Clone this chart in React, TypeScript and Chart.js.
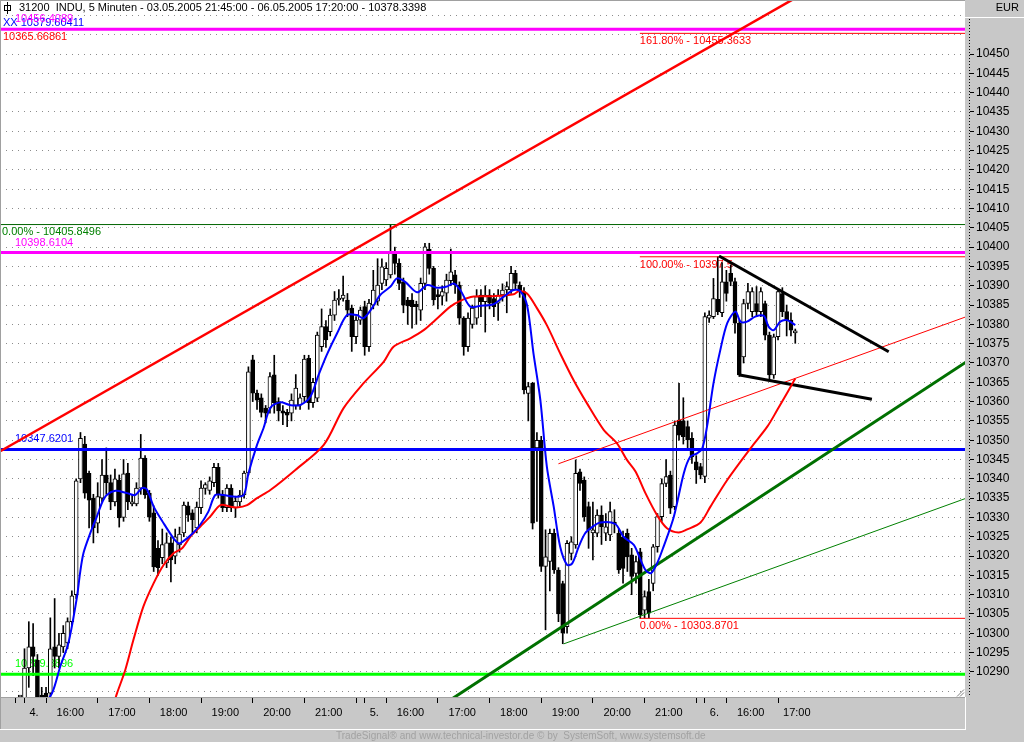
import React, { useEffect, useRef } from 'react';
import { Chart, registerables } from 'chart.js';

Chart.register(...registerables);

const W = 1024;
const H = 742;
const FONT = '"Liberation Sans", Arial, sans-serif';
Chart.defaults.font.family = FONT;

// ---------------- texts ----------------
const titleText = '31200  INDU, 5 Minuten - 03.05.2005 21:45:00 - 06.05.2005 17:20:00 - 10378.3398';
const currencyLabel = 'EUR';
const footerText = 'TradeSignal\u00ae and www.technical-investor.de \u00a9 by  SystemSoft, www.systemsoft.de';
const extraLabelTexts = ['XX 10379.60411', '10365.66861'];

// ---------------- candles (5-minute bars) ----------------
// first bar = 03.05.2005 21:45, slot index -5; 04.05 15:35 = slot 0
const FIRST_SLOT = -5;
const ohlc: [number, number, number, number][] = [
  // 03.05
  [10262, 10264, 10258, 10260], [10260, 10262, 10257, 10259], [10259, 10261, 10255, 10256],
  [10256, 10259, 10255, 10257], [10257, 10258, 10256, 10257.5],
  // 04.05
  [10262, 10296, 10256, 10291], [10291, 10303, 10286, 10296.5], [10296.5, 10302.5, 10289, 10294],
  [10293, 10294.5, 10281, 10283.5], [10284, 10286, 10281, 10283], [10284.5, 10286, 10282, 10283.5],
  [10284.5, 10304, 10283, 10296], [10296.5, 10309, 10291, 10294], [10294, 10300, 10291, 10297],
  [10296.5, 10302, 10295, 10300], [10297.5, 10304, 10296, 10303], [10303, 10311, 10302, 10309.7],
  [10310, 10340, 10309, 10339.5], [10340, 10352, 10339, 10350.5], [10349, 10351, 10335, 10336.3],
  [10341.4, 10342, 10327.3, 10334.5], [10335, 10336, 10323.4, 10327.3], [10328.5, 10339, 10326, 10335.4],
  [10335, 10345, 10334, 10341], [10341, 10348, 10336, 10339], [10339, 10341, 10332, 10334],
  [10334, 10342.5, 10333, 10340], [10339.7, 10341, 10327.5, 10329.9], [10330, 10345, 10329, 10341.3],
  [10341.5, 10344, 10332, 10334], [10333.5, 10336, 10333, 10334], [10333.5, 10339, 10333, 10337.6],
  [10337.6, 10351.5, 10336, 10345.4], [10345.4, 10346, 10335, 10335.8], [10336.3, 10337, 10329, 10330.1],
  [10331.2, 10333, 10316, 10317.2], [10322, 10324, 10315, 10317], [10319.6, 10327, 10318, 10323],
  [10318.2, 10326, 10317, 10323.4], [10323.4, 10325, 10313.3, 10319], [10320, 10327, 10318, 10325],
  [10322.9, 10327.5, 10321, 10325.7], [10326, 10334, 10325, 10333.2], [10333, 10334, 10329, 10330.6],
  [10331.2, 10332, 10326, 10329.4], [10327.3, 10334, 10326, 10332.7], [10332.5, 10339.5, 10331, 10337.6],
  [10337.5, 10339, 10336, 10338.5], [10337, 10340.5, 10336, 10339.5], [10339, 10344, 10338, 10343],
  [10343, 10344, 10335, 10335.8], [10335.8, 10337, 10331.5, 10332.5], [10332.5, 10338.5, 10331.5, 10337.6],
  [10337.6, 10338.5, 10331.5, 10332.5], [10332.5, 10335.5, 10330, 10334.2], [10334, 10337, 10333, 10335.8],
  [10335.8, 10342, 10335, 10341.5], [10341.5, 10369, 10341, 10367.7], [10370.8, 10372, 10360, 10362.2],
  [10362.2, 10363, 10358, 10360.4], [10361, 10362, 10356, 10357.2], [10358.3, 10359, 10354.5, 10357],
  [10358.3, 10367.5, 10357, 10366.5], [10366.9, 10372, 10357, 10359.7], [10360, 10361, 10355, 10357.6],
  [10357.6, 10359, 10354, 10357], [10357.2, 10358, 10353.5, 10356.5], [10357, 10362, 10355, 10360.4],
  [10359, 10367, 10358, 10363.5], [10359.1, 10362, 10358, 10361], [10361.3, 10372, 10360, 10371],
  [10371.2, 10372, 10358, 10359.7], [10359.7, 10366, 10358.5, 10365], [10360.9, 10378, 10360, 10377.2],
  [10374.2, 10384, 10373, 10379.4], [10379.4, 10381, 10374, 10376], [10378.1, 10384, 10377, 10382.4],
  [10382.4, 10388.5, 10381, 10386.3], [10386.3, 10389, 10385, 10386.8], [10386.7, 10392.5, 10386, 10387.6],
  [10386.3, 10388, 10382, 10383.7], [10384.2, 10385, 10373, 10376.8], [10376.8, 10382, 10375, 10381.1],
  [10381.1, 10384.5, 10380, 10383.7],
  // 05.05
  [10384.6, 10386, 10372, 10374.2], [10374.2, 10386.5, 10373, 10385.5], [10385, 10394, 10384, 10388.9],
  [10386, 10397, 10385, 10390.2], [10390.6, 10397, 10389, 10394.9], [10391.5, 10396, 10390, 10394.5],
  [10392.8, 10405.8, 10392, 10398.4], [10398.4, 10400, 10393, 10395.8], [10395.8, 10397, 10389, 10390.6],
  [10391, 10392, 10383, 10385], [10386.3, 10387, 10380, 10384.8], [10386.3, 10388, 10379, 10384.6],
  [10385.2, 10386, 10380, 10384.6], [10383.7, 10392, 10381, 10390.6], [10390.6, 10401, 10389, 10400.1],
  [10399.4, 10401, 10393, 10394.5], [10394.5, 10395, 10385, 10386.3], [10387.5, 10389, 10384, 10387.2],
  [10387.3, 10390, 10385, 10388.5], [10388.1, 10393, 10386, 10391.5], [10391.3, 10399.5, 10390, 10393.6],
  [10392.8, 10394, 10388, 10390.2], [10390.2, 10391, 10380, 10381.6], [10381.6, 10382, 10372, 10374.2],
  [10374.2, 10383, 10373, 10381.6], [10380, 10385, 10379, 10384.2], [10381.6, 10389, 10380, 10387.2],
  [10387.6, 10389, 10382, 10385.9], [10385.9, 10390, 10378, 10387.6], [10387.6, 10389, 10384, 10385.5],
  [10386.7, 10388, 10382, 10384.6], [10385.5, 10389, 10381, 10387.6], [10387.6, 10390.5, 10386, 10388.9],
  [10388.9, 10391, 10383, 10389.8], [10388.9, 10395, 10388, 10393.2], [10393.2, 10394, 10389, 10390.6],
  [10390.2, 10391, 10387, 10388.5], [10388.5, 10389.5, 10362, 10363], [10362.1, 10365, 10355, 10363.9],
  [10364.7, 10365, 10327, 10328.5], [10348, 10352, 10329, 10350], [10350, 10351, 10316, 10317.3],
  [10317.3, 10326.8, 10300.9, 10319.8], [10318.6, 10327, 10311, 10325.9], [10325.9, 10327, 10315.5, 10316.4],
  [10316.4, 10317, 10303, 10305], [10312.9, 10313.5, 10297.3, 10300], [10301.7, 10324, 10300, 10323.3],
  [10320.7, 10325, 10319, 10323.7], [10322.9, 10344.9, 10322, 10341.4], [10341.8, 10342.5, 10337, 10338.8],
  [10339.7, 10340.5, 10329, 10330.2], [10332.8, 10334, 10322, 10326.8], [10326, 10334, 10319, 10326.8],
  [10325.9, 10332, 10325, 10330.6], [10330.6, 10333, 10323, 10327.6], [10325.9, 10331, 10324, 10327.6],
  [10325.5, 10334, 10324, 10331.5], [10328.8, 10332, 10326, 10328.3], [10325.9, 10327, 10315.5, 10316.4],
  [10325, 10326.5, 10313, 10316.8], [10325.9, 10327, 10316, 10319.8], [10320.3, 10322, 10310, 10314.7],
  [10315.5, 10320, 10313, 10318.6], [10321.1, 10322, 10303.87, 10304.8], [10306, 10311, 10304, 10309.5],
  [10310.8, 10314, 10304, 10305.2], [10312.9, 10323, 10311, 10322.4], [10322.4, 10331, 10321, 10330.2],
  [10330.2, 10340, 10329, 10338.8], [10338.8, 10345, 10338, 10340.6], [10341, 10342, 10331, 10332.4],
  [10332.8, 10355, 10332, 10353.9], [10355.2, 10364.7, 10350, 10351.3], [10355, 10361, 10349, 10350.9],
  [10353.5, 10355, 10348, 10350.1], [10350.5, 10352, 10344, 10345.7], [10344.4, 10346, 10338.8, 10342.3],
  [10343.2, 10344, 10340, 10341],
  // 06.05
  [10340.6, 10383, 10339, 10382], [10381.6, 10383.5, 10380.5, 10382.4], [10382, 10391.9, 10381.5, 10386.7],
  [10386.5, 10397.5, 10382.5, 10383.3], [10383, 10396, 10382, 10391], [10391, 10394, 10386, 10388],
  [10393.2, 10395.4, 10390, 10391.1], [10391.1, 10392, 10377.7, 10380.3], [10380.3, 10381, 10366.5, 10366.9],
  [10371.6, 10386.5, 10370, 10385.4], [10385.4, 10390.6, 10384, 10388.5], [10383.3, 10389.5, 10382, 10388.5],
  [10385.4, 10389.8, 10382, 10383.3], [10383.3, 10389.5, 10382, 10388.5], [10385.4, 10386, 10376, 10377.2],
  [10377.2, 10378, 10365.5, 10366.9], [10366.9, 10377.5, 10366, 10376.8], [10376.8, 10389, 10376, 10388.5],
  [10388, 10389.5, 10382, 10383.3], [10383.3, 10385, 10377, 10381.1], [10381.1, 10383, 10377, 10378.5],
  [10377.8, 10378.8, 10375.1, 10378.34],
];

// ---------------- indicator lines [slot, value] ----------------
const blueAverage: [number, number][] = [
  [3.5, 10280], [6.4, 10284.5], [8.3, 10291.4], [10.2, 10297.5], [12.2, 10309.5], [12.9, 10315.6],
  [13.7, 10320.8], [15.3, 10326], [16.8, 10330.2], [18, 10333.8], [19.1, 10335.8], [21.1, 10336.9],
  [23.8, 10336.3], [25.7, 10335.8], [27.3, 10337.6], [28.4, 10337.3], [30, 10332.8], [32.3, 10328.5],
  [34.6, 10324.6], [35.8, 10323.3], [36.6, 10323.6], [38.9, 10325.7], [40.8, 10328.1], [42.7, 10331.5],
  [44.3, 10335.8], [46.2, 10335.8], [48.5, 10335.4], [50.9, 10335.8], [52, 10341.4], [54, 10348.8],
  [55.5, 10353.1], [57.1, 10358.4], [59.4, 10359.8], [61.7, 10359.1], [64, 10359.1], [66.4, 10361.3],
  [68.3, 10366.9], [70.2, 10372.1], [72.6, 10377.7], [74.9, 10382.4], [77.2, 10382.4], [78.7, 10381.6],
  [80.7, 10384.2], [82.6, 10387.6], [85, 10389.8], [86.5, 10391.9], [88.4, 10391], [91.2, 10388.3],
  [93.5, 10390.2], [95.8, 10389.5], [98.1, 10389.8], [99.7, 10390.6], [101.2, 10388.9], [103.5, 10384.6],
  [105.9, 10384.8], [108.9, 10385.2], [111.3, 10387.2], [113.6, 10388.9], [115.1, 10388.6], [116.7, 10385],
  [118.2, 10372.5], [119.8, 10360.4], [121.3, 10343.2], [122.9, 10332.8], [124.4, 10322.4], [126, 10317.7],
  [127.2, 10318.1], [128.7, 10322.4], [130.2, 10325.9], [131.8, 10327.5], [133.7, 10328.7], [137.2, 10328.3],
  [139.1, 10325], [141.5, 10322.9], [142.6, 10320.3], [144.2, 10316.4], [145.5, 10315.6], [146.9, 10318.1],
  [148.4, 10322.4], [150.8, 10330.2], [153.1, 10341.4], [154.6, 10345.7], [156.2, 10346.6], [157.4, 10347.9],
  [158.5, 10353.5], [160, 10364.7], [161.6, 10373.4], [163.2, 10380.3], [165.1, 10383.3], [166.3, 10380.7],
  [167.8, 10380.7], [169.7, 10382], [171.7, 10382.2], [172.8, 10379.4], [174, 10378.5], [175.5, 10380.7],
  [177.1, 10381.1], [179, 10379.8],
];
const redAverage: [number, number][] = [
  [20.5, 10281], [21.5, 10284.5], [23.4, 10290.5], [25.3, 10298.3], [27.6, 10306.9], [30, 10313],
  [32.3, 10317.7], [34.6, 10320.7], [36.6, 10322], [38.5, 10325], [40.8, 10327.6], [43.1, 10330.2],
  [45.5, 10333.2], [47.8, 10332.8], [49.3, 10332.6], [51.7, 10333.2], [54, 10335], [57.1, 10337.1],
  [62.9, 10342.3], [69.5, 10348.8], [74.1, 10358.3], [78.7, 10364.7], [83.4, 10370.3], [85.7, 10374.2],
  [89.6, 10376.4], [92.7, 10378.5], [95, 10380.7], [98.9, 10384.6], [101.2, 10386.1], [104.3, 10387.2],
  [108.9, 10387.3], [113.6, 10387.8], [114.8, 10388.6], [116.7, 10388], [119, 10384.2], [121.3, 10379.8],
  [124.4, 10372.5], [127.5, 10365.6], [130.6, 10359.6], [134.5, 10352.7], [137.6, 10349.2], [139.9, 10344.9],
  [141.9, 10341.9], [144.2, 10336.3], [146.9, 10330.6], [149.2, 10327.2], [151.9, 10326.1], [153.9, 10326.9],
  [157, 10328.7], [159.3, 10332.8], [163.2, 10339.7], [168.6, 10347.9], [172.5, 10353.5], [174.8, 10357.8],
  [177.1, 10362.2], [179, 10366],
];

// ---------------- trend lines [slot, value] ----------------
const redChannelLine: [number, number][] = [[-6, 10346.9], [182, 10466.4]];
const redThinLine: [number, number][] = [[124.0, 10343.9], [220, 10382.5]];
const greenThickLine: [number, number][] = [[95, 10279.9], [220, 10371.2]];
const greenThinLine: [number, number][] = [[125.2, 10297.25], [220, 10335.5]];
const blackUpperLine: [number, number][] = [[161.3, 10397.7], [200.7, 10372.9]];
const blackLowerLine: [number, number][] = [[166.1, 10366.9], [196.8, 10360.6]];

// ---------------- horizontal levels ----------------
const levelValues = [10456.44, 10455.3633, 10405.8496, 10398.6104, 10397.5, 10347.6201, 10303.8701, 10289.3896];
const levelTexts = ['10456.4089', '161.80% - 10455.3633', '0.00% - 10405.8496', '10398.6104', '100.00% - 10397.5', '10347.6201', '0.00% - 10303.8701', '10289.3896'];
const levelKinds = ['mark', 'fib', 'base', 'mark', 'fib', 'mark', 'fib', 'mark'];
const FIB_START_SLOT = 142.9;

// ---------------- axes ----------------
const xTickSlots = [-2, 0, 5, 17, 29, 41, 53, 65, 77, 79, 84, 96, 108, 120, 132, 144, 156, 158, 163, 175];
const xLabelSlots = [0, 5, 17, 29, 41, 53, 65, 79, 84, 96, 108, 120, 132, 144, 158, 163, 175];
const xLabelTexts = ['4.', '16:00', '17:00', '18:00', '19:00', '20:00', '21:00', '5.', '16:00', '17:00', '18:00', '19:00', '20:00', '21:00', '6.', '16:00', '17:00'];
const Y_MIN = 10283.5;
const Y_MAX = 10464;
const Y_GRID_FROM = 10285;
const Y_GRID_TO = 10460;
const Y_LABEL_FROM = 10290;
const Y_LABEL_TO = 10450;

// ---------------- layout constants ----------------
const PLOT_RIGHT = 965;
const X_ORIGIN_PX = 24.5; // pixel of slot 0
const BAR_PX = 4.306;
const XMIN = -X_ORIGIN_PX / BAR_PX;
const XMAX = (PLOT_RIGHT - X_ORIGIN_PX) / BAR_PX;

const MAGENTA = '#ff00ff';
const RED = '#ff0000';
const BLUE = '#0000ff';
const LIME = '#00ff00';
const DKGREEN = '#008000';
const TRENDGREEN = '#007000';

const levelColors = [MAGENTA, RED, DKGREEN, MAGENTA, RED, BLUE, RED, LIME];
const levelLineColors = [MAGENTA, RED, '#006400', MAGENTA, RED, BLUE, RED, LIME];
const levelWidths = [3, 1, 1, 3, 1, 3, 1, 3];

const isLabeled = (v: number) => v >= Y_LABEL_FROM && v <= Y_LABEL_TO;

function buildConfig() {
  const slots = ohlc.map((_, k) => k + FIRST_SLOT);
  const wickData = ohlc.map(([, h, l], k) => ({ x: slots[k], y: [l, h] }));
  const bodyData = ohlc.map(([o, , , c], k) => ({ x: slots[k], y: [Math.min(o, c), Math.max(o, c)] }));
  const bodyColors = ohlc.map(([o, , , c]) => (c >= o ? '#ffffff' : '#000000'));

  const line = (pts: [number, number][], color: string, width: number, order: number, extra: any = {}) => ({
    type: 'line',
    data: pts.map(([x, y]) => ({ x, y })),
    borderColor: color,
    borderWidth: width,
    pointRadius: 0,
    fill: false,
    tension: 0,
    order,
    clip: 0,
    ...extra,
  });

  const levelDatasets = levelValues.map((v, k) =>
    line([[levelKinds[k] === 'fib' ? FIB_START_SLOT : XMIN - 1, v], [XMAX + 1, v]], levelLineColors[k], levelWidths[k], 6)
  );

  const yGrid: number[] = [];
  for (let v = Y_GRID_FROM; v <= Y_GRID_TO; v += 5) yGrid.push(v);

  const labelValues = xLabelSlots.map((s, k) => {
    const txt = xLabelTexts[k];
    const off = txt.endsWith('.') || k === xLabelSlots.length - 1 ? 5 : 10.5;
    return s + off / BAR_PX;
  });

  const decor = {
    id: 'decor',
    beforeDraw(chart: any) {
      const { ctx, chartArea: ca } = chart;
      ctx.save();
      ctx.fillStyle = '#c8c8c8';
      ctx.fillRect(0, 0, W, H);
      ctx.fillStyle = '#ffffff';
      ctx.fillRect(ca.left, ca.top, ca.right - ca.left, ca.bottom - ca.top);
      ctx.restore();
    },
    beforeDatasetsDraw(chart: any) {
      const { ctx, chartArea: ca } = chart;
      const yS = chart.scales.y;
      const xS = chart.scales.x;
      ctx.save();
      ctx.beginPath();
      ctx.rect(ca.left, ca.top, ca.right - ca.left, ca.bottom - ca.top);
      ctx.clip();
      ctx.font = `11px ${FONT}`;
      ctx.textBaseline = 'middle';
      ctx.textAlign = 'left';
      ctx.fillStyle = BLUE;
      ctx.fillText(extraLabelTexts[0], 3, 23);
      ctx.fillStyle = RED;
      ctx.fillText(extraLabelTexts[1], 3, 37);
      levelValues.forEach((v, k) => {
        const y = yS.getPixelForValue(v);
        const kind = levelKinds[k];
        let x = 15;
        let dy = -10;
        if (kind === 'fib') { x = xS.getPixelForValue(FIB_START_SLOT); dy = 8; }
        if (kind === 'base') { x = 2; dy = 7; }
        ctx.fillStyle = levelColors[k];
        ctx.fillText(levelTexts[k], x, y + dy);
      });
      ctx.restore();
    },
    afterDraw(chart: any) {
      const { ctx, chartArea: ca } = chart;
      ctx.save();
      // frame of the plot
      ctx.fillStyle = '#a0a0a0';
      ctx.fillRect(0, 0, ca.right, 1);
      ctx.fillRect(0, 0, 1, ca.bottom);
      ctx.fillRect(0, ca.bottom, ca.right, 1);
      ctx.fillRect(0, ca.bottom, 1, 730 - ca.bottom);
      // panel highlights
      ctx.fillStyle = '#ffffff';
      ctx.fillRect(0, 729, ca.right + 1, 1);
      ctx.fillRect(ca.right, ca.bottom, 1, 730 - ca.bottom);
      ctx.fillRect(ca.right, 17, W - ca.right, 1);
      // dotted axis line
      ctx.strokeStyle = '#000000';
      ctx.lineWidth = 1;
      ctx.setLineDash([1, 2]);
      ctx.beginPath();
      ctx.moveTo(969.5, 19);
      ctx.lineTo(969.5, ca.bottom);
      ctx.stroke();
      ctx.setLineDash([]);
      // resize grip
      ctx.strokeStyle = '#808080';
      ctx.beginPath();
      ctx.moveTo(957, 696.5); ctx.lineTo(964, 689.5);
      ctx.moveTo(960, 696.5); ctx.lineTo(964, 692.5);
      ctx.stroke();
      // texts
      ctx.fillStyle = '#000000';
      ctx.font = `11px ${FONT}`;
      ctx.textBaseline = 'middle';
      ctx.textAlign = 'right';
      ctx.fillText(currencyLabel, 1019, 8);
      ctx.textAlign = 'left';
      ctx.fillText(titleText, 19, 8);
      // small candle icon in front of the title
      ctx.strokeStyle = '#000000';
      ctx.beginPath();
      ctx.moveTo(7.5, 2); ctx.lineTo(7.5, 14);
      ctx.stroke();
      ctx.strokeRect(4.5, 5.5, 6, 5);
      // footer
      ctx.fillStyle = '#a2a2a2';
      ctx.font = `10px ${FONT}`;
      ctx.fillText(footerText, 336, 736);
      ctx.restore();
    },
  };

  return {
    type: 'bar',
    data: {
      datasets: [
        {
          type: 'bar', data: wickData, backgroundColor: '#000000', borderWidth: 0,
          barThickness: 1, grouped: false, order: 20, clip: 0,
        },
        {
          type: 'bar', data: bodyData, backgroundColor: bodyColors, borderColor: '#000000', borderWidth: 1,
          borderSkipped: false, barThickness: 4, grouped: false, order: 19, clip: 0, minBarLength: 2,
        },
        ...levelDatasets,
        line(redChannelLine, RED, 2.5, 5),
        line(redThinLine, RED, 1, 5),
        line(greenThickLine, TRENDGREEN, 3, 5),
        line(greenThinLine, DKGREEN, 1, 5),
        line(blackUpperLine, '#000000', 3, 4),
        line(blackLowerLine, '#000000', 3, 4),
        line(redAverage, RED, 2, 3, { tension: 0.3 }),
        line(blueAverage, BLUE, 2, 2, { tension: 0.3 }),
      ],
    },
    options: {
      responsive: false,
      animation: false,
      devicePixelRatio: 1,
      events: [],
      layout: { padding: 0 },
      plugins: { legend: { display: false }, title: { display: false }, tooltip: { enabled: false } },
      scales: {
        x: {
          type: 'linear', position: 'bottom', min: XMIN, max: XMAX, offset: false, bounds: 'data', weight: 1,
          afterBuildTicks: (s: any) => { s.ticks = labelValues.map((v) => ({ value: v })); },
          afterFit: (s: any) => { s.height = 37; s.paddingLeft = 0; s.paddingRight = 0; },
          grid: { display: false, drawTicks: false, offset: false },
          border: { display: false },
          ticks: {
            autoSkip: false, maxRotation: 0, minRotation: 0, align: 'start', padding: 1, color: '#000000',
            font: { family: FONT, size: 11 },
            callback: (_v: any, i: number) => xLabelTexts[i],
          },
        },
        xt: {
          type: 'linear', position: 'bottom', min: XMIN, max: XMAX, offset: false, bounds: 'data', weight: 0,
          afterBuildTicks: (s: any) => { s.ticks = xTickSlots.map((v) => ({ value: v })); },
          afterFit: (s: any) => { s.height = 8; s.paddingLeft = 0; s.paddingRight = 0; },
          grid: {
            display: true, drawOnChartArea: false, drawTicks: true, tickLength: 6, tickColor: '#000000',
            tickWidth: 1, color: 'rgba(0,0,0,0)', offset: false,
          },
          border: { display: false },
          ticks: { display: false },
        },
        y: {
          type: 'linear', position: 'right', min: Y_MIN, max: Y_MAX, bounds: 'data', beginAtZero: false,
          afterBuildTicks: (s: any) => { s.ticks = yGrid.map((v) => ({ value: v })); },
          afterFit: (s: any) => { s.width = W - PLOT_RIGHT; s.paddingTop = 0; s.paddingBottom = 0; },
          grid: {
            color: '#8c8c8c', lineWidth: 1, drawTicks: true, tickLength: 9, tickWidth: 1,
            tickColor: (ctx: any) => (ctx.tick && isLabeled(ctx.tick.value) ? '#000000' : 'rgba(0,0,0,0)'),
            tickBorderDash: [0, 5, 4, 50],
          },
          border: { display: false, dash: [1, 5] },
          ticks: {
            autoSkip: false, padding: 2, color: '#000000', font: { family: FONT, size: 12 },
            callback: (v: any) => (isLabeled(Number(v)) ? String(v) : ''),
          },
        },
      },
    },
    plugins: [decor],
  };
}

export default function App() {
  const ref = useRef<HTMLCanvasElement>(null);
  useEffect(() => {
    document.body.style.margin = '0';
    const canvas = ref.current;
    if (!canvas) return;
    const chart = new Chart(canvas, buildConfig() as any);
    return () => chart.destroy();
  }, []);
  return <canvas ref={ref} width={W} height={H} style={{ display: 'block', width: W, height: H }} />;
}
